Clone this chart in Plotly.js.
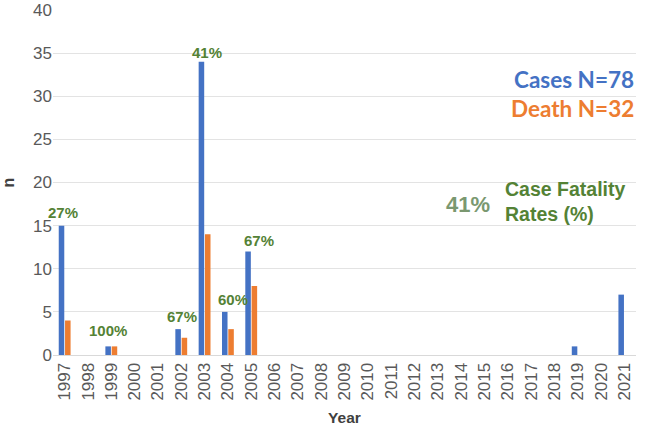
<!DOCTYPE html>
<html><head><meta charset="utf-8">
<script src="https://cdn.plot.ly/plotly-3.0.1.min.js"></script>
<style>body{margin:0;background:#fff}#c{width:645px;height:427px}</style>
</head><body><div id="c"></div>
<script>
const years = ["1997","1998","1999","2000","2001","2002","2003","2004","2005","2006","2007","2008","2009","2010","2011","2012","2013","2014","2015","2016","2017","2018","2019","2020","2021"];
const cases = [15,0,1,0,0,3,34,5,12,0,0,0,0,0,0,0,0,0,0,0,0,0,1,0,7];
const deaths = [4,0,1,0,0,2,14,3,8,0,0,0,0,0,0,0,0,0,0,0,0,0,0,0,0];
const cfrYears = ["1997","1999","2002","2003","2004","2005"];
const cfrLabels = ["27%","100%","67%","41%","60%","67%"];
const cfrY = [16.5,2.8,4.5,35.1,6.4,13.3];
const cfrShift = [-2,-3,1,2,5,8];

const green = "#548235";
const annotations = cfrYears.map((y,i)=>({
  x:years.indexOf(y), y:cfrY[i], xref:"x", yref:"y", text:"<b>"+cfrLabels[i]+"</b>", showarrow:false,
  xshift:cfrShift[i], font:{family:"Liberation Sans, Arial", size:15, color:green}
}));
annotations.push(
  {xref:"paper", yref:"y", x:1, y:32, xanchor:"right", text:"<b>Cases N=78</b>", showarrow:false, font:{family:"Lato", size:22.5, color:"#4472C4"}},
  {xref:"paper", yref:"y", x:1, y:28.6, xanchor:"right", text:"<b>Death N=32</b>", showarrow:false, font:{family:"Lato", size:22.5, color:"#ED7D31"}},
  {xref:"paper", yref:"y", x:0.671, y:17.5, xanchor:"left", text:"<b>41%</b>", showarrow:false, font:{family:"Liberation Sans, Arial", size:22, color:"#7a9870"}},
  {xref:"paper", yref:"y", x:0.772, y:17.75, xanchor:"left", text:"<b>Case Fatality<br>Rates (%)</b>", showarrow:false, align:"left", font:{family:"Liberation Sans, Arial", size:19.5, color:green}}
);

const data = [
  {type:"bar", x:years, y:cases, name:"Cases", marker:{color:"#4472C4"}, hoverinfo:"none"},
  {type:"bar", x:years, y:deaths, name:"Death", marker:{color:"#ED7D31"}, hoverinfo:"none"}
];
const layout = {
  width:645, height:427,
  margin:{l:53, r:9, t:10, b:72},
  barmode:"group", bargap:0.46, bargroupgap:0.12,
  showlegend:false,
  paper_bgcolor:"#fff", plot_bgcolor:"#fff",
  font:{family:"Liberation Sans, Arial", color:"#595959"},
  xaxis:{type:"category", range:[-0.5,24.5], tickangle:-90, tickfont:{size:17, color:"#595959"},
    showgrid:false, showline:true, linecolor:"#d9d9d9", ticks:"",
    title:{text:"<b>Year</b>", font:{size:15.5, color:"#404040"}, standoff:12}},
  yaxis:{range:[0,40], dtick:5, tickfont:{size:17, color:"#595959"}, gridcolor:"#e3e3e3",
    zeroline:false, showline:false, ticks:"",
    title:{text:"<b>n</b>", font:{size:16, color:"#404040"}, standoff:16}},
  annotations:annotations
};
Plotly.newPlot("c", data, layout, {staticPlot:true});
</script></body></html>
